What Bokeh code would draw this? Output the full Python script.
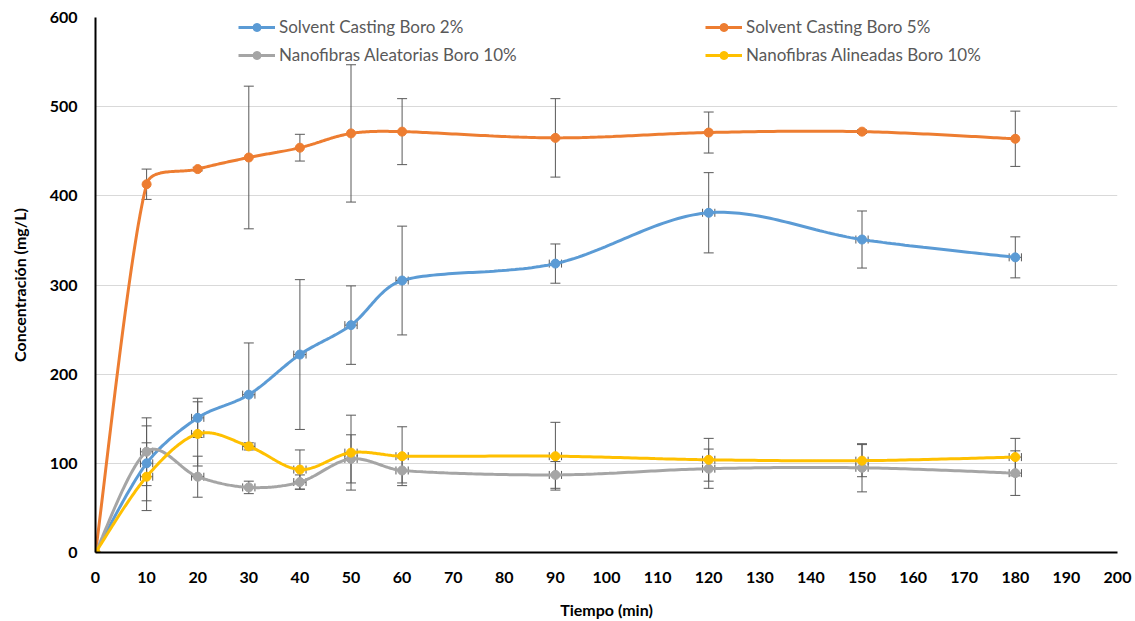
import numpy as np
from bokeh.plotting import figure
from bokeh.models import (ColumnDataSource, Whisker, TeeHead, Legend, LegendItem,
                          FixedTicker, Range1d)
from bokeh.embed import file_html
from bokeh.resources import INLINE

# ---- data ----
tiempo = [0, 10, 20, 30, 40, 50, 60, 90, 120, 150, 180]
sc2 = [0, 100, 151, 177, 222, 255, 305, 324, 381, 351, 331]
sc2_err = [0, 42, 22, 58, 84, 44, 61, 22, 45, 32, 23]
sc5 = [0, 413, 430, 443, 454, 470, 472, 465, 471, 472, 464]
sc5_err = [0, 17, 2, 80, 15, 77, 37, 44, 23, 2, 31]
nal = [0, 113, 85, 73, 79, 105, 92, 87, 94, 95, 89]
nal_err = [0, 38, 23, 7, 8, 27, 14, 15, 22, 27, 25]
nli = [0, 85, 133, 119, 93, 112, 108, 108, 104, 103, 107]
nli_err = [0, 38, 36, 4, 22, 42, 33, 38, 24, 18, 21]

series = [
    ("Solvent Casting Boro 2%", sc2, sc2_err, "#5B9BD5", True),
    ("Solvent Casting Boro 5%", sc5, sc5_err, "#ED7D31", False),
    ("Nanofibras Aleatorias Boro 10%", nal, nal_err, "#A5A5A5", True),
    ("Nanofibras Alineadas Boro 10%", nli, nli_err, "#FFC000", True),
]

FONT = "Lato"

W, H = 1135, 621
BL, BR, BT, BB = 95, 18, 17, 68
FW, FH = W - BL - BR, H - BT - BB
X0, X1, Y0, Y1 = 0, 200, 0, 600
SX = FW / (X1 - X0)
SY = FH / (Y1 - Y0)


def smooth(xs, ys, n=40):
    # Bezier smoothing computed in screen proportions
    pts = np.column_stack([np.asarray(xs, float) * SX, np.asarray(ys, float) * SY])
    out = []
    m = len(pts)
    tang = []
    for i in range(m):
        a = pts[i - 1] if i > 0 else pts[i]
        b = pts[i + 1] if i < m - 1 else pts[i]
        tang.append((b - a) / 6.0)
    for i in range(m - 1):
        p1, p2 = pts[i], pts[i + 1]
        seg = np.linalg.norm(p2 - p1)
        t1, t2 = tang[i], tang[i + 1]
        l1, l2 = np.linalg.norm(t1), np.linalg.norm(t2)
        lim = seg / 3.0
        if l1 > lim:
            t1 = t1 * lim / l1
        if l2 > lim:
            t2 = t2 * lim / l2
        c1 = p1 + t1
        c2 = p2 - t2
        t = np.linspace(0, 1, n, endpoint=(i == m - 2))[:, None]
        bz = ((1 - t) ** 3) * p1 + 3 * ((1 - t) ** 2) * t * c1 + 3 * (1 - t) * t ** 2 * c2 + t ** 3 * p2
        out.append(bz)
    out = np.vstack(out)
    return out[:, 0] / SX, out[:, 1] / SY


p = figure(width=W, height=H, output_backend="svg", toolbar_location=None,
           x_range=Range1d(X0, X1), y_range=Range1d(Y0, Y1),
           min_border_left=BL, min_border_right=BR, min_border_top=BT, min_border_bottom=BB)
p.outline_line_color = None
p.background_fill_color = "white"
p.border_fill_color = "white"

p.xgrid.grid_line_color = None
p.ygrid.grid_line_color = "#D9D9D9"
p.ygrid.grid_line_width = 1

p.xaxis.ticker = FixedTicker(ticks=list(range(0, 201, 10)))
p.yaxis.ticker = FixedTicker(ticks=list(range(0, 601, 100)))
for ax in (p.xaxis, p.yaxis):
    ax.axis_line_color = "black"
    ax.axis_line_width = 2
    ax.major_tick_line_color = None
    ax.minor_tick_line_color = None
    ax.major_label_text_font = FONT
    ax.major_label_text_font_style = "bold"
    ax.major_label_text_font_size = "16px"
    ax.major_label_text_color = "black"
    ax.axis_label_text_font = FONT
    ax.axis_label_text_font_style = "bold"
    ax.axis_label_text_color = "black"
    ax.axis_label_text_font_size = "16px"
p.xaxis.major_label_standoff = 13
p.yaxis.major_label_standoff = 12
p.xaxis.axis_label = "Tiempo (min)"
p.yaxis.axis_label = "Concentración (mg/L)"
p.xaxis.axis_label_standoff = 14
p.yaxis.axis_label_standoff = 18

items = []
for name, ys, err, color, xerr in series:
    sx, sy = smooth(tiempo, ys)
    r_line = p.line(sx, sy, line_color=color, line_width=3)
    src = ColumnDataSource(dict(x=tiempo, y=ys,
                                lo=[v - e for v, e in zip(ys, err)],
                                hi=[v + e for v, e in zip(ys, err)]))
    w = Whisker(source=src, base="x", lower="lo", upper="hi", dimension="height",
                line_color="#595959", line_width=1,
                lower_head=TeeHead(size=10, line_color="#595959", line_width=1),
                upper_head=TeeHead(size=10, line_color="#595959", line_width=1))
    p.add_layout(w)
    if xerr:
        src2 = ColumnDataSource(dict(y=ys[1:], xlo=[t - 1.2 for t in tiempo[1:]],
                                     xhi=[t + 1.2 for t in tiempo[1:]]))
        w2 = Whisker(source=src2, base="y", lower="xlo", upper="xhi", dimension="width",
                     line_color="#595959", line_width=1,
                     lower_head=TeeHead(size=8, line_color="#595959", line_width=1),
                     upper_head=TeeHead(size=8, line_color="#595959", line_width=1))
        p.add_layout(w2)
    r_pts = p.scatter(tiempo, ys, size=9, marker="circle", fill_color=color, line_color=color)
    items.append(LegendItem(label=name, renderers=[r_line, r_pts]))

leg_h = 2 * 20 + 7
for idx, xpos in ((0, 143), (1, 610)):
    leg = Legend(items=[items[idx], items[idx + 2]], location=(xpos, FH - leg_h - 2),
                 orientation="vertical", padding=0, margin=0, spacing=7,
                 glyph_width=37, glyph_height=20, label_height=20, label_standoff=4,
                 label_text_font=FONT, label_text_font_size="17px",
                 label_text_color="#595959",
                 background_fill_alpha=0, border_line_color=None)
    p.add_layout(leg, "center")

open("out.html", "w").write(file_html(p, INLINE))
